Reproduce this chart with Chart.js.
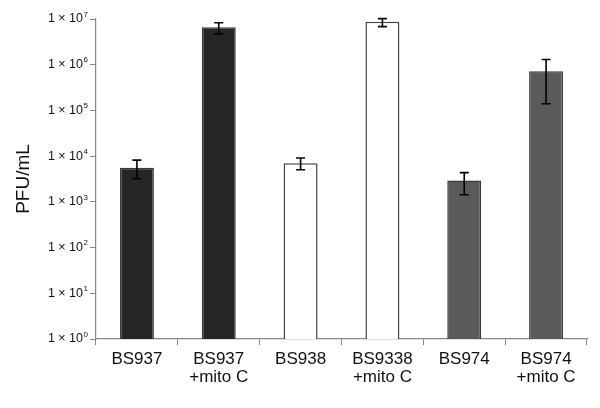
<!DOCTYPE html>
<html>
<head>
<meta charset="utf-8">
<script src="https://cdn.jsdelivr.net/npm/chart.js@4"></script>
<style>
  html, body { margin: 0; padding: 0; background: #fff; }
  #wrap { width: 600px; height: 408px; }
</style>
</head>
<body>
<div id="wrap"><canvas id="chart" width="600" height="408"></canvas></div>
<script>
const strains = [["BS937"], ["BS937", "+mito C"], ["BS938"], ["BS9338", "+mito C"], ["BS974"], ["BS974", "+mito C"]];
const pfu = [5600, 6.6e6, 7000, 8.7e6, 2950, 7.2e5];
const errLow = [3200, 4.7e6, 5050, 6.8e6, 1430, 1.4e5];
const errHigh = [8200, 8.3e6, 9100, 1.02e7, 4350, 1.3e6];
const yTicks = [1, 10, 100, 1e3, 1e4, 1e5, 1e6, 1e7];
const yTickLabels = ["1 × 10", "1 × 10", "1 × 10", "1 × 10", "1 × 10", "1 × 10", "1 × 10", "1 × 10"];
const yTickExp = ["0", "1", "2", "3", "4", "5", "6", "7"];

const fills = ["#262626", "#262626", "#ffffff", "#ffffff", "#5a5a5a", "#5a5a5a"];
const borders = ["#3a3a3a", "#3a3a3a", "#444444", "#444444", "#3a3a3a", "#3a3a3a"];

const FONT = "Liberation Sans, Arial, sans-serif";

// error bars drawn on top of the bars, exponents next to the y tick labels
const extras = {
    id: "extras",
    afterDatasetsDraw(chart) {
        const ctx = chart.ctx;
        const y = chart.scales.y;
        const meta = chart.getDatasetMeta(0);
        ctx.save();
        ctx.strokeStyle = "#000";
        ctx.lineWidth = 1.6;
        meta.data.forEach((bar, i) => {
            const x = bar.x;
            const top = y.getPixelForValue(errHigh[i]);
            const bot = y.getPixelForValue(errLow[i]);
            ctx.beginPath();
            ctx.moveTo(x, top);
            ctx.lineTo(x, bot);
            ctx.moveTo(x - 4.5, top);
            ctx.lineTo(x + 4.5, top);
            ctx.moveTo(x - 4.5, bot);
            ctx.lineTo(x + 4.5, bot);
            ctx.stroke();
        });

        ctx.fillStyle = "#111";
        ctx.font = "8px " + FONT;
        ctx.textAlign = "left";
        ctx.textBaseline = "middle";
        yTicks.forEach((v, i) => {
            const py = y.getPixelForValue(v);
            ctx.fillText(yTickExp[i], y.right - 12.5, py - 4.5);
        });
        ctx.restore();
    }
};

const ctx = document.getElementById("chart");
new Chart(ctx, {
    type: "bar",
    data: {
        labels: strains,
        datasets: [{
            data: pfu,
            backgroundColor: fills,
            borderColor: borders,
            borderWidth: 1.5,
            categoryPercentage: 1,
            barPercentage: 0.415
        }]
    },
    options: {
        responsive: false,
        animation: false,
        layout: { padding: { top: 19, right: 13, left: 0, bottom: 0 } },
        plugins: {
            legend: { display: false },
            tooltip: { enabled: false }
        },
        scales: {
            x: {
                grid: { display: true, drawOnChartArea: false, offset: true, tickLength: 6, color: "#888" },
                border: { color: "#888", width: 1.2 },
                ticks: {
                    color: "#111",
                    font: { family: FONT, size: 17, lineHeight: 1.08 },
                    padding: 5,
                    maxRotation: 0,
                    autoSkip: false
                },
                afterFit(scale) { scale.height = 69; }
            },
            y: {
                type: "logarithmic",
                min: 1,
                max: 1e7,
                afterBuildTicks(scale) {
                    scale.ticks = yTicks.map(v => ({ value: v }));
                },
                afterFit(scale) { scale.width = 96; },
                grid: { display: true, drawOnChartArea: false, tickLength: 6, color: "#888" },
                border: { color: "#888", width: 1.2 },
                ticks: {
                    color: "#111",
                    font: { family: FONT, size: 12.5 },
                    padding: 7,
                    callback(value) {
                        const k = yTicks.indexOf(value);
                        return k >= 0 ? yTickLabels[k] : "";
                    }
                },
                title: {
                    display: true,
                    text: "PFU/mL",
                    color: "#111",
                    font: { family: FONT, size: 19 },
                    padding: { top: 12, bottom: 0 }
                }
            }
        }
    },
    plugins: [extras]
});
</script>
</body>
</html>
